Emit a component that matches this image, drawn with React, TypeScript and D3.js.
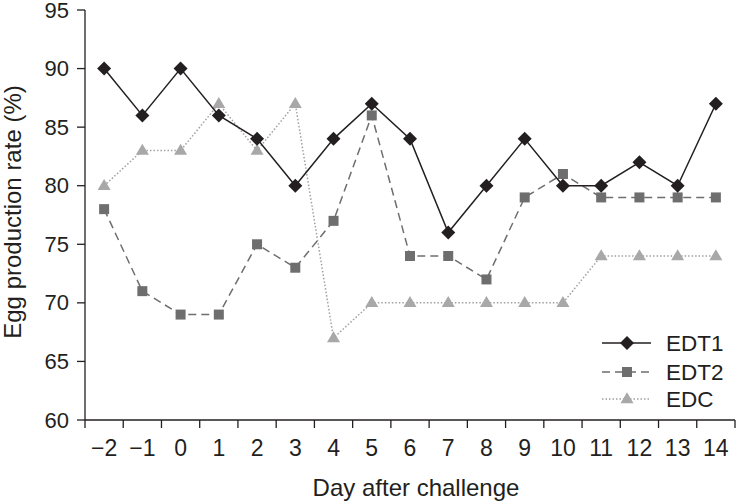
import { useMemo } from 'react'
import * as d3 from 'd3'

const days = ['−2', '−1', '0', '1', '2', '3', '4', '5', '6', '7', '8', '9', '10', '11', '12', '13', '14']
const edt1 = [90, 86, 90, 86, 84, 80, 84, 87, 84, 76, 80, 84, 80, 80, 82, 80, 87]
const edt2 = [78, 71, 69, 69, 75, 73, 77, 86, 74, 74, 72, 79, 81, 79, 79, 79, 79]
const edc = [80, 83, 83, 87, 83, 87, 67, 70, 70, 70, 70, 70, 70, 74, 74, 74, 74]
const yTicks = [60, 65, 70, 75, 80, 85, 90, 95]

const W = 736
const H = 502
const FONT = '"Liberation Sans", Arial, sans-serif'
const INK = '#231f20'

type Series = {
  name: string
  values: number[]
  line: string
  fill: string
  dash: string
  shape: 'diamond' | 'square' | 'triangle'
}

const series: Series[] = [
  { name: 'EDT1', values: edt1, line: INK, fill: INK, dash: '', shape: 'diamond' },
  { name: 'EDT2', values: edt2, line: '#6e6e6e', fill: '#6e6e6e', dash: '8,5', shape: 'square' },
  { name: 'EDC', values: edc, line: '#a0a0a0', fill: '#a8a8a8', dash: '1.5,2', shape: 'triangle' },
]

function Marker({ shape, x, y, fill }: { shape: Series['shape']; x: number; y: number; fill: string }) {
  if (shape === 'diamond') {
    const r = 7
    return <path d={`M${x},${y - r}L${x + r},${y}L${x},${y + r}L${x - r},${y}Z`} fill={fill} />
  }
  if (shape === 'square') {
    const s = 10
    return <rect x={x - s / 2} y={y - s / 2} width={s} height={s} fill={fill} />
  }
  const w = 13
  const h = 11
  return <path d={`M${x},${y - h * 0.62}L${x + w / 2},${y + h * 0.38}L${x - w / 2},${y + h * 0.38}Z`} fill={fill} />
}

export default function App() {
  const x = useMemo(() => d3.scaleBand<string>().domain(days).range([85, 735]).padding(0), [])
  const y = useMemo(() => d3.scaleLinear().domain([60, 95]).range([420, 10]), [])
  const cx = (d: string) => (x(d) ?? 0) + x.bandwidth() / 2

  const line = d3
    .line<number>()
    .x((_, i) => cx(days[i]))
    .y(v => y(v))

  const boundaries = [...days.map(d => x(d) ?? 0), x.range()[1]]
  const legendY = [343, 372, 399]

  return (
    <svg
      width={W}
      height={H}
      style={{ position: 'absolute', left: 0, top: 0, background: '#fff' }}
      fontFamily={FONT}
    >
      {/* axes */}
      <line x1={85} x2={85} y1={y(95)} y2={y(60)} stroke={INK} strokeWidth={1.3} />
      <line x1={85} x2={735} y1={y(60)} y2={y(60)} stroke={INK} strokeWidth={1.3} />
      {yTicks.map(t => (
        <g key={t}>
          <line x1={77} x2={85} y1={y(t)} y2={y(t)} stroke={INK} strokeWidth={1.3} />
          <text x={69} y={y(t)} textAnchor="end" dominantBaseline="central" fontSize={22} fill={INK}>
            {t}
          </text>
        </g>
      ))}
      {boundaries.map((b, i) => (
        <line key={i} x1={b} x2={b} y1={y(60)} y2={y(60) + 8} stroke={INK} strokeWidth={1.3} />
      ))}
      {days.map(d => (
        <text key={d} x={cx(d)} y={456} textAnchor="middle" fontSize={23} fill={INK}>
          {d}
        </text>
      ))}
      <text x={416} y={496} textAnchor="middle" fontSize={24} fill={INK}>
        Day after challenge
      </text>
      <text transform="translate(21,212) rotate(-90)" textAnchor="middle" fontSize={24} fill={INK}>
        Egg production rate (%)
      </text>

      {/* series, drawn back to front */}
      {[...series].reverse().map(s => (
        <g key={s.name}>
          <path
            d={line(s.values) ?? ''}
            fill="none"
            stroke={s.line}
            strokeWidth={1.5}
            strokeDasharray={s.dash || undefined}
          />
          {s.values.map((v, i) => (
            <Marker key={i} shape={s.shape} x={cx(days[i])} y={y(v)} fill={s.fill} />
          ))}
        </g>
      ))}

      {/* legend */}
      {series.map((s, i) => (
        <g key={s.name}>
          <line
            x1={602}
            x2={651}
            y1={legendY[i]}
            y2={legendY[i]}
            stroke={s.line}
            strokeWidth={1.5}
            strokeDasharray={s.dash || undefined}
          />
          <Marker shape={s.shape} x={627} y={legendY[i]} fill={s.fill} />
          <text x={666} y={legendY[i]} dominantBaseline="central" fontSize={22.5} fill={INK}>
            {s.name}
          </text>
        </g>
      ))}
    </svg>
  )
}
